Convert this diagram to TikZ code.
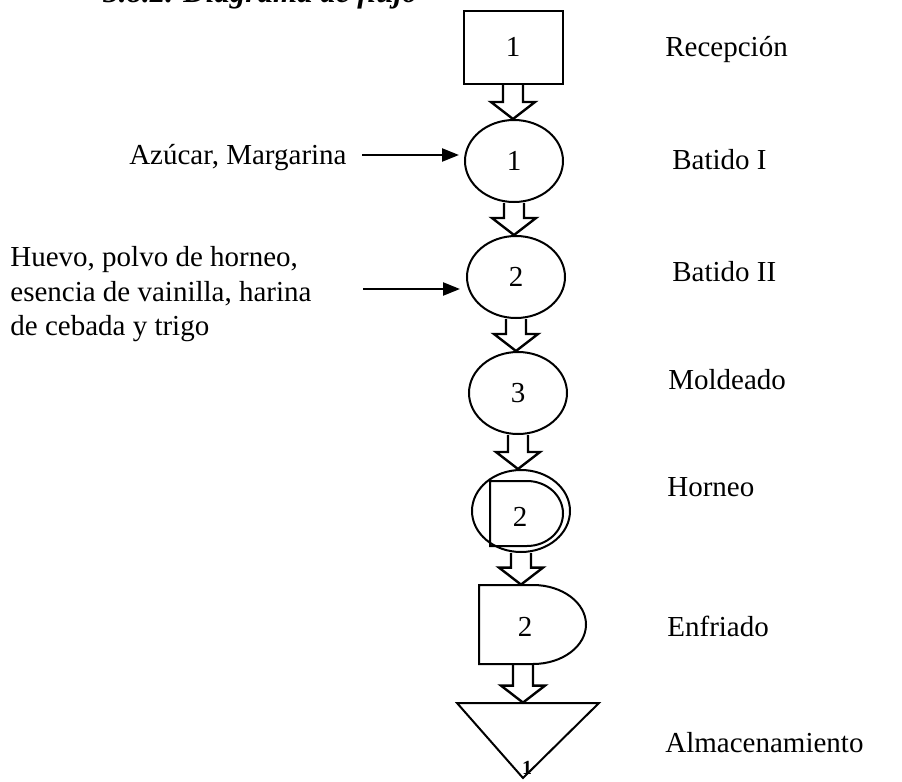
\documentclass[tikz,border=0pt]{standalone}
\usepackage{fontspec}
\setmainfont{Liberation Serif}
\usetikzlibrary{arrows.meta,shapes.geometric,calc}

\tikzset{
  texto/.style={font=\fontsize{14.5}{17.25}\selectfont, inner sep=0pt},
  forma/.style={draw, line width=1pt},
  proceso/.style={forma, ellipse, minimum width=49pt, minimum height=41pt, inner sep=0pt, texto},
  hueca/.style={draw, line width=1.2pt, line join=miter},
  entrada/.style={line width=1.2pt, -{Triangle[length=8.5pt,width=6.5pt]}}
}

% hollow block arrow from one shape to the next
\newcommand{\flecha}[2]{%
  \draw[hueca] let \p1=(#1.south), \p2=(#2.north) in
    (\x1-5pt,\y1) -- (\x1-5pt,\y2+8.5pt) -- (\x1-11pt,\y2+8.5pt) -- (\x1,\y2)
    -- (\x1+11pt,\y2+8.5pt) -- (\x1+5pt,\y2+8.5pt) -- (\x1+5pt,\y1);}

\begin{document}
\begin{tikzpicture}[x=0.5pt,y=-0.5pt]
  \useasboundingbox (0,0) rectangle (902,782);
  \clip (0,0) rectangle (902,782);
  % title, cut at the top
  \node[anchor=base west, inner sep=0pt, font=\fontsize{15.5}{18}\selectfont\bfseries\itshape]
    (titulo) at (103,2) {3.8.2. Diagrama de flujo};

  % shapes
  \node[forma, rectangle, minimum width=49.5pt, minimum height=36.5pt, texto] (rec) at (513,47) {1};
  \node[proceso] (bat1) at (514,161) {1};
  \node[proceso] (bat2) at (516,277) {2};
  \node[proceso] (mol) at (518,393) {3};
  \node[proceso] (hor) at (521,511) {};
  \draw[forma] (527,481) -- (490,481) -- (490,546) -- (527,546)
    arc[start angle=-90, end angle=90, x radius=18pt, y radius=16.25pt] -- cycle;
  \node[texto] (horn) at (520,517) {2};
  \node[minimum width=20pt, minimum height=39.5pt, inner sep=0pt, texto] (enf) at (523,624.5) {};
  \draw[forma] (533,585) -- (479,585) -- (479,664) -- (533,664)
    arc[start angle=-90, end angle=90, x radius=26.5pt, y radius=19.75pt] -- cycle;
  \node[texto] (enfn) at (525,627) {2};
  \node[minimum width=20pt, minimum height=37.5pt, inner sep=0pt] (alm) at (523,740.5) {};
  \draw[forma, line join=miter] (457,703) -- (599,703) -- (523,778) -- cycle;
  \node[inner sep=0pt, font=\fontsize{10}{12}\selectfont\bfseries] (almn) at (527,768) {1};

  % block arrows
  \flecha{rec}{bat1}
  \flecha{bat1}{bat2}
  \flecha{bat2}{mol}
  \flecha{mol}{hor}
  \flecha{hor}{enf}
  \flecha{enf}{alm}

  % inputs
  \node[texto, anchor=base east] (azucar) at (347,164) {Azúcar, Margarina};
  \coordinate (in1) at (362,155);
  \draw[entrada] (in1) -- (in1 -| 459,0);
  \node[texto, anchor=north west, align=left] (huevo) at (10,246)
    {Huevo, polvo de horneo,\\esencia de vainilla, harina\\de cebada y trigo};
  \coordinate (in2) at (363,289);
  \draw[entrada] (in2) -- (in2 -| 460,0);

  % operation names
  \node[texto, anchor=base west] (l1) at (665,56) {Recepción};
  \node[texto, anchor=base west] (l2) at (672,169) {Batido I};
  \node[texto, anchor=base west] (l3) at (672,281) {Batido II};
  \node[texto, anchor=base west] (l4) at (668,389) {Moldeado};
  \node[texto, anchor=base west] (l5) at (667,496) {Horneo};
  \node[texto, anchor=base west] (l6) at (667,636) {Enfriado};
  \node[texto, anchor=base west] (l7) at (665,752) {Almacenamiento};
\end{tikzpicture}
\end{document}
